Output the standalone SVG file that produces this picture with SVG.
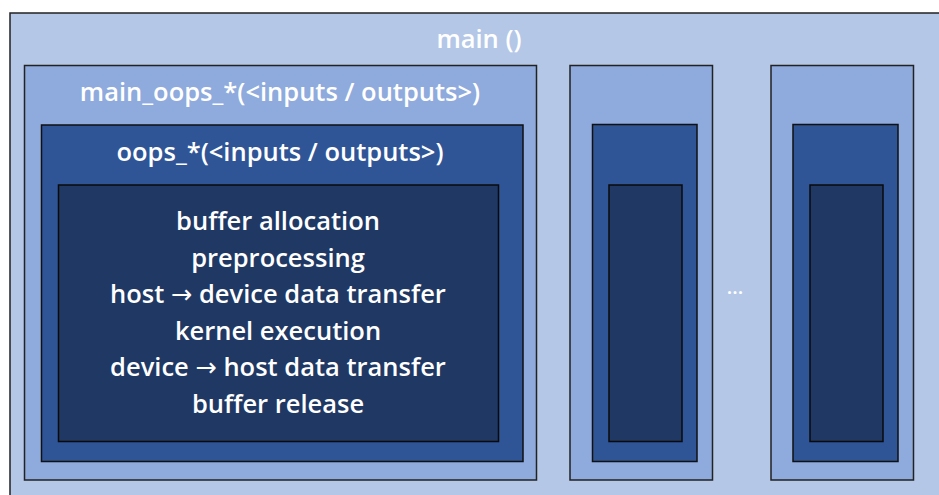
<svg xmlns="http://www.w3.org/2000/svg" width="939" height="495" viewBox="0 0 939 495">
<style>
.l0{fill:#B4C7E7;stroke:#222;stroke-width:1.5}
.l1{fill:#8FAADC;stroke:#222;stroke-width:1.5}
.l2{fill:#2F5597;stroke:#111;stroke-width:1.5}
.l3{fill:#203864;stroke:#0a0a0a;stroke-width:1.5}
text{font-family:"Open Sans","DejaVu Sans",sans-serif;font-weight:600;fill:#fff;text-anchor:middle}
.t{font-size:25.5px}
.a{font-family:"DejaVu Sans",sans-serif;font-weight:normal}
</style>
<rect width="939" height="495" fill="#fff"/>
<g id="main">
<rect class="l0" x="10" y="13" width="940" height="490"/>
<text class="t" x="479" y="48">main ()</text>
</g>
<g id="main_oops_1">
<rect class="l1" x="24.5" y="65.5" width="512" height="414.5"/>
<text class="t" x="280" y="101">main_oops_*(&lt;inputs / outputs&gt;)</text>
</g>
<g id="oops_1">
<rect class="l2" x="41.5" y="125" width="481.5" height="336.5"/>
<text class="t" x="280" y="161">oops_*(&lt;inputs / outputs&gt;)</text>
</g>
<g id="body_1">
<rect class="l3" x="58.5" y="185" width="440" height="256.5"/>
<text class="t" x="278" y="230">buffer allocation</text>
<text class="t" x="278" y="267">preprocessing</text>
<text class="t" x="278" y="303">host <tspan class="a">→</tspan> device data transfer</text>
<text class="t" x="278" y="340">kernel execution</text>
<text class="t" x="278" y="376">device <tspan class="a">→</tspan> host data transfer</text>
<text class="t" x="278" y="413">buffer release</text>
</g>
<g id="main_oops_2">
<rect class="l1" x="570" y="65.5" width="142.5" height="414.5"/>
</g>
<g id="oops_2">
<rect class="l2" x="592.5" y="124.5" width="104.5" height="337"/>
</g>
<g id="body_2">
<rect class="l3" x="609" y="185" width="73" height="256.5"/>
</g>
<g id="ellipsis">
<text x="735" y="294" style="font-size:20px">...</text>
</g>
<g id="main_oops_3">
<rect class="l1" x="771" y="65.5" width="142.5" height="414.5"/>
</g>
<g id="oops_3">
<rect class="l2" x="793" y="124.5" width="105" height="337"/>
</g>
<g id="body_3">
<rect class="l3" x="810" y="185" width="73" height="256.5"/>
</g>
<g id="connectors"></g>
</svg>
